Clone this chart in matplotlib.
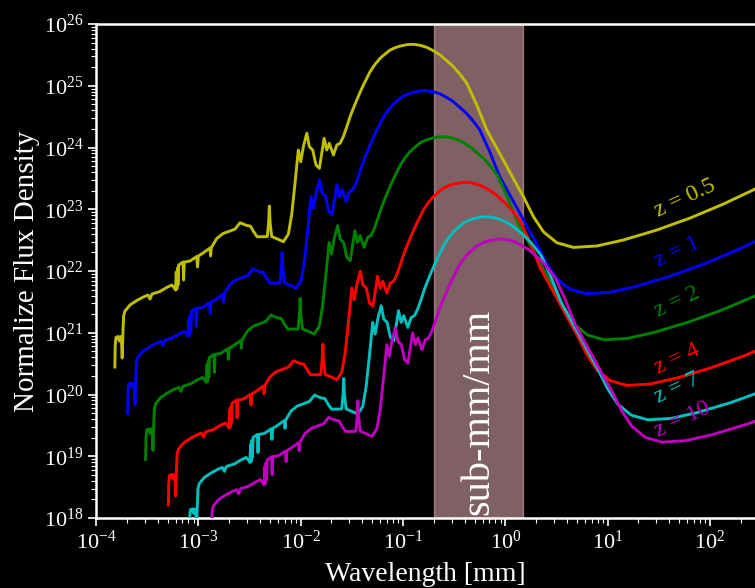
import numpy as np
import matplotlib
matplotlib.use("Agg")
import matplotlib.pyplot as plt
from matplotlib.ticker import FixedLocator, NullFormatter, LogFormatterSciNotation

plt.rcParams['font.family'] = ['Liberation Serif', 'DejaVu Serif']
plt.rcParams['mathtext.fontset'] = 'stix'

# Rest-frame starburst SED template:
# log10 wavelength [micron] and log10 flux density relative to the far-IR peak
rest_log_um = [
    -0.992, -0.988, -0.981, -0.961, -0.948, -0.937, -0.927, -0.920, -0.912, -0.906,
    -0.893, -0.844, -0.778, -0.714, -0.668, -0.648, -0.629, -0.551, -0.485, -0.436,
    -0.414, -0.399, -0.392, -0.386, -0.379, -0.375, -0.368, -0.326, -0.320, -0.313,
    -0.257, -0.192, -0.184, -0.176, -0.130, -0.062, -0.056, -0.049, 0.004, 0.065,
    0.134, 0.183, 0.232, 0.297, 0.332, 0.365, 0.398, 0.447, 0.498, 0.511,
    0.518, 0.525, 0.541, 0.610, 0.655, 0.704, 0.737, 0.769, 0.801, 0.825,
    0.850, 0.884, 0.909, 0.942, 0.974, 1.007, 1.053, 1.079, 1.104, 1.144,
    1.177, 1.209, 1.241, 1.275, 1.307, 1.339, 1.372, 1.405, 1.437, 1.470,
    1.502, 1.551, 1.600, 1.649, 1.698, 1.747, 1.796, 1.861, 1.926, 1.991,
    2.057, 2.121, 2.187, 2.252, 2.317, 2.382, 2.448, 2.545, 2.643, 2.822,
    2.910, 3.001, 3.099, 3.196, 3.327, 3.490, 3.718, 3.978, 4.305, 4.630,
    4.956, 5.266,
]
rest_log_flux = [
    -5.226, -4.870, -4.748, -4.732, -4.805, -4.732, -4.789, -5.080, -4.627, -4.400,
    -4.319, -4.222, -4.149, -4.092, -4.060, -4.125, -4.044, -4.003, -3.938, -3.898,
    -3.938, -3.979, -3.687, -3.963, -3.623, -3.898, -3.574, -3.526, -3.817, -3.526,
    -3.509, -3.436, -3.606, -3.428, -3.380, -3.299, -3.428, -3.291, -3.145, -3.064,
    -3.023, -2.991, -2.889, -2.934, -2.943, -3.035, -3.116, -3.116, -3.113, -2.878,
    -2.619, -2.878, -3.113, -3.161, -3.197, -3.072, -2.748, -2.246, -1.712, -1.901,
    -1.658, -1.441, -1.658, -1.712, -1.955, -2.008, -1.522, -1.712, -1.603, -1.793,
    -1.631, -1.603, -1.496, -1.334, -1.172, -1.036, -0.902, -0.777, -0.659, -0.551,
    -0.444, -0.324, -0.227, -0.157, -0.092, -0.055, -0.028, -0.006, 0.000, -0.016,
    -0.049, -0.104, -0.173, -0.266, -0.363, -0.486, -0.632, -0.983, -1.388, -1.927,
    -2.198, -2.468, -2.792, -3.035, -3.213, -3.289, -3.266, -3.169, -3.007, -2.813,
    -2.586, -2.343,
]

redshifts = [0.5, 1, 2, 4, 7, 10]
peak_log_flux = [25.671, 24.920, 24.175, 23.436, 22.879, 22.518]
colors = ['y', 'b', 'g', 'r', 'c', 'm']
labels = ['z = 0.5', 'z = 1', 'z = 2', 'z = 4', 'z = 7', 'z = 10']
label_log_flux = [22.874, 22.07, 21.26, 20.34, 19.87, 19.31]
label_wavelength_mm = 31.0

band_mm = (0.2, 1.5)
band_text = 'sub-mm/mm'

x_decades = list(range(-4, 3))
y_decades = list(range(18, 27))
x_max = 10 ** 2.44

W, H = 755, 588
fig = plt.figure(figsize=(W / 100, H / 100), dpi=100, facecolor='black')
ax = fig.add_axes([96 / W, 1 - 518 / H, 1 - 96 / W, (518 - 24) / H])
ax.set_facecolor('black')

ax.axvspan(band_mm[0], band_mm[1], color='pink', alpha=0.5, zorder=1)

rest_um = 10 ** np.array(rest_log_um)
rel_flux = 10 ** np.array(rest_log_flux)
for z, lp, c in zip(redshifts, peak_log_flux, colors):
    lam_mm = rest_um * (1 + z) / 1000.0
    ax.plot(lam_mm, rel_flux * 10 ** lp, color=c, lw=2.1, zorder=3)

for lab, ly, c in zip(labels, label_log_flux, colors):
    ax.text(label_wavelength_mm, 10 ** ly, lab, color=c, fontsize=17,
            rotation=25, rotation_mode='anchor', ha='left', va='baseline', zorder=4)

ax.text(np.sqrt(band_mm[0] * band_mm[1]), 10 ** 19.72, band_text, color='white',
        fontsize=29, rotation=90, ha='center', va='center', zorder=5)

ax.set_xscale('log')
ax.set_yscale('log')
ax.set_xlim(1e-4, x_max)
ax.set_ylim(1e18, 1e26)

# decade ticks and in-range minor ticks only
x_major = [10.0 ** d for d in x_decades]
y_major = [10.0 ** d for d in y_decades]
x_minor = [m * 10.0 ** d for d in x_decades for m in range(2, 10) if m * 10.0 ** d <= x_max]
y_minor = [m * 10.0 ** d for d in y_decades[:-1] for m in range(2, 10)]
ax.xaxis.set_major_locator(FixedLocator(x_major))
ax.yaxis.set_major_locator(FixedLocator(y_major))
ax.xaxis.set_minor_locator(FixedLocator(x_minor))
ax.yaxis.set_minor_locator(FixedLocator(y_minor))
for ax_ in (ax.xaxis, ax.yaxis):
    ax_.set_major_formatter(LogFormatterSciNotation(base=10))
    ax_.set_minor_formatter(NullFormatter())

for side in ('left', 'bottom', 'top'):
    ax.spines[side].set_color('white')
    ax.spines[side].set_linewidth(1.8)
ax.spines['right'].set_visible(False)

ax.tick_params(which='both', colors='white', direction='out', top=False, right=False)
ax.tick_params(which='major', length=6, width=1.2, labelsize=16, pad=3)
ax.tick_params(which='minor', length=3.5, width=0.8)

ax.set_xlabel('Wavelength [mm]', color='white', fontsize=20, labelpad=6)
ax.set_ylabel('Normalize Flux Density', color='white', fontsize=21, labelpad=3)

fig.savefig('out.png', dpi=100, facecolor='black')
